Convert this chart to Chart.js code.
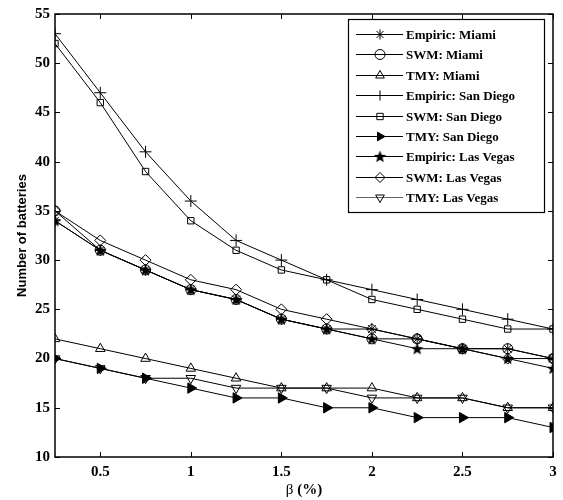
<!DOCTYPE html>
<html>
<head>
<meta charset="utf-8">
<script src="https://cdn.jsdelivr.net/npm/chart.js@4.4.1/dist/chart.umd.min.js"></script>
<style>
  html, body { margin: 0; padding: 0; background: #fff; }
  #wrap { width: 563px; height: 500px; position: relative; }
</style>
</head>
<body>
<div id="wrap"><canvas id="grafico"></canvas></div>
<script>
// valores de beta (%) y ticks
const betas = [0.25, 0.5, 0.75, 1, 1.25, 1.5, 1.75, 2, 2.25, 2.5, 2.75, 3];
const ticksX = [0.5, 1, 1.5, 2, 2.5, 3];
const ticksY = [10, 15, 20, 25, 30, 35, 40, 45, 50, 55];

// series
const empiricMiami = [34, 31, 29, 27, 26, 24, 23, 23, 22, 21, 21, 20];
const swmMiami = [35, 31, 29, 27, 26, 24, 23, 22, 22, 21, 21, 20];
const tmyMiami = [22, 21, 20, 19, 18, 17, 17, 17, 16, 16, 15, 15];
const empiricSanDiego = [53, 47, 41, 36, 32, 30, 28, 27, 26, 25, 24, 23];
const swmSanDiego = [52, 46, 39, 34, 31, 29, 28, 26, 25, 24, 23, 23];
const tmySanDiego = [20, 19, 18, 17, 16, 16, 15, 15, 14, 14, 14, 13];
const empiricLasVegas = [34, 31, 29, 27, 26, 24, 23, 22, 21, 21, 20, 19];
const swmLasVegas = [35, 32, 30, 28, 27, 25, 24, 23, 22, 21, 20, 20];
const tmyLasVegas = [20, 19, 18, 18, 17, 17, 17, 16, 16, 16, 15, 15];

// estrella rellena (no existe en Chart.js)
function crearEstrella(tam) {
  const c = document.createElement("canvas");
  c.width = tam; c.height = tam;
  const g = c.getContext("2d");
  const r = tam / 2, ri = r * 0.42;
  g.beginPath();
  for (let i = 0; i < 10; i++) {
    const ang = -Math.PI / 2 + i * Math.PI / 5;
    const rad = i % 2 === 0 ? r : ri;
    g.lineTo(r + rad * Math.cos(ang), r + 0.5 + rad * Math.sin(ang));
  }
  g.closePath();
  g.fillStyle = "#000";
  g.fill();
  return c;
}
const estrella = crearEstrella(13);

function serie(label, valores, estilo, extra = {}) {
  return {
    label,
    data: betas.map((b, i) => ({ x: b, y: valores[i] })),
    borderColor: "#000",
    backgroundColor: "rgba(0,0,0,0)",
    borderWidth: 1,
    pointStyle: estilo,
    pointRadius: 5,
    pointBorderWidth: 1,
    pointBorderColor: "#000",
    pointBackgroundColor: "rgba(0,0,0,0)",
    tension: 0,
    ...extra,
  };
}

const datasets = [
  serie("Empiric: Miami", empiricMiami, "star", { pointRadius: 5.5 }),
  serie("SWM: Miami", swmMiami, "circle"),
  serie("TMY: Miami", tmyMiami, "triangle", { pointRadius: 5.5 }),
  serie("Empiric: San Diego", empiricSanDiego, "cross", { pointRadius: 6 }),
  serie("SWM: San Diego", swmSanDiego, "rect", { pointRadius: 4.5 }),
  serie("TMY: San Diego", tmySanDiego, "triangle", { pointRotation: 90, pointBackgroundColor: "#000", pointRadius: 6 }),
  serie("Empiric: Las Vegas", empiricLasVegas, estrella),
  serie("SWM: Las Vegas", swmLasVegas, "rectRot", { pointRadius: 5.5 }),
  serie("TMY: Las Vegas", tmyLasVegas, "triangle", { pointRotation: 180, pointRadius: 5.5 }),
];

const fuenteTicks = { family: "'Liberation Serif', 'Times New Roman', serif", size: 15, weight: "bold" };

// marco, ticks hacia adentro, títulos y leyenda interna
const pluginMarco = {
  id: "marco",
  afterDatasetsDraw(chart) {
    const { ctx, chartArea: a, scales } = chart;
    ctx.save();
    ctx.strokeStyle = "#000";
    ctx.lineWidth = 1;
    ticksX.forEach((v) => {
      const x = Math.round(scales.x.getPixelForValue(v)) + 0.5;
      ctx.beginPath();
      ctx.moveTo(x, a.bottom); ctx.lineTo(x, a.bottom - 5);
      ctx.moveTo(x, a.top); ctx.lineTo(x, a.top + 5);
      ctx.stroke();
    });
    ticksY.forEach((v) => {
      const y = Math.round(scales.y.getPixelForValue(v)) + 0.5;
      ctx.beginPath();
      ctx.moveTo(a.left, y); ctx.lineTo(a.left + 5, y);
      ctx.moveTo(a.right, y); ctx.lineTo(a.right - 5, y);
      ctx.stroke();
    });
    ctx.lineWidth = 1.5;
    ctx.strokeRect(a.left, a.top, a.right - a.left, a.bottom - a.top);

    // título eje Y
    ctx.fillStyle = "#000";
    ctx.font = "bold 13px 'Liberation Sans', Arial, sans-serif";
    ctx.textAlign = "center";
    ctx.textBaseline = "middle";
    ctx.save();
    ctx.translate(22, (a.top + a.bottom) / 2);
    ctx.rotate(-Math.PI / 2);
    ctx.fillText("Number of batteries", 0, 0);
    ctx.restore();

    // título eje X: β normal, (%) en negrita
    const cx = (a.left + a.right) / 2;
    ctx.textAlign = "left";
    ctx.font = "15px 'Liberation Serif', serif";
    const w1 = ctx.measureText("β ").width;
    ctx.font = "bold 15px 'Liberation Serif', serif";
    const w2 = ctx.measureText("(%)").width;
    const x0 = cx - (w1 + w2) / 2;
    ctx.font = "15px 'Liberation Serif', serif";
    ctx.fillText("β ", x0, 490);
    ctx.font = "bold 15px 'Liberation Serif', serif";
    ctx.fillText("(%)", x0 + w1, 490);

    // leyenda
    const caja = { x: 348, y: 19, w: 196, h: 193 };
    ctx.fillStyle = "#fff";
    ctx.fillRect(caja.x, caja.y, caja.w, caja.h);
    ctx.lineWidth = 1.2;
    ctx.strokeStyle = "#000";
    ctx.strokeRect(caja.x + 0.5, caja.y + 0.5, caja.w, caja.h);
    ctx.font = "bold 13px 'Liberation Serif', 'Times New Roman', serif";
    ctx.textBaseline = "middle";
    chart.data.datasets.forEach((ds, i) => {
      const y = Math.round(34 + i * 20.4) + 0.5;
      ctx.strokeStyle = i === 8 ? "#666" : "#000";
      ctx.lineWidth = 1;
      ctx.beginPath();
      ctx.moveTo(356, y); ctx.lineTo(403, y);
      ctx.stroke();
      ctx.strokeStyle = "#000";
      ctx.fillStyle = ds.pointBackgroundColor;
      Chart.helpers.drawPoint(ctx, {
        pointStyle: ds.pointStyle,
        rotation: ds.pointRotation || 0,
        radius: Math.min(ds.pointRadius, 5),
        borderWidth: 1,
      }, 380, y);
      ctx.fillStyle = "#000";
      ctx.fillText(ds.label, 406, y + 1);
    });
    ctx.restore();
  },
};

new Chart(document.querySelector("#grafico"), {
  type: "line",
  data: { datasets },
  options: {
    responsive: true,
    maintainAspectRatio: false,
    animation: false,
    layout: { padding: { top: 12, right: 10, left: 0, bottom: 0 } },
    plugins: { legend: { display: false }, tooltip: { enabled: false } },
    scales: {
      x: {
        type: "linear",
        min: 0.25,
        max: 3,
        afterBuildTicks: (eje) => { eje.ticks = ticksX.map((v) => ({ value: v })); },
        afterFit: (eje) => { eje.height = 43; },
        grid: { display: false, tickLength: 0 },
        border: { display: false },
        ticks: { color: "#000", font: fuenteTicks, padding: 6, maxRotation: 0, callback: (v) => String(v) },
      },
      y: {
        min: 10,
        max: 55,
        afterBuildTicks: (eje) => { eje.ticks = ticksY.map((v) => ({ value: v })); },
        afterFit: (eje) => { eje.width = 55; },
        grid: { display: false, tickLength: 0 },
        border: { display: false },
        ticks: { color: "#000", font: fuenteTicks, padding: 5 },
      },
    },
  },
  plugins: [pluginMarco],
});
</script>
</body>
</html>
